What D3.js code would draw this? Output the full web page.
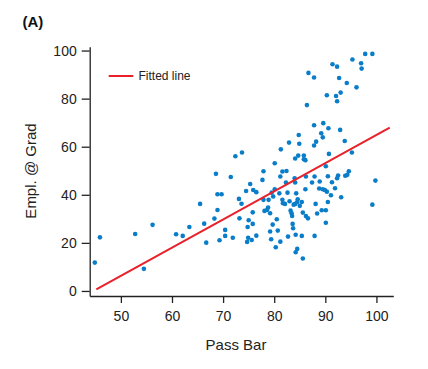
<!DOCTYPE html>
<html>
<head>
<meta charset="utf-8">
<script src="https://cdn.jsdelivr.net/npm/d3@7"></script>
<style>
  html, body { margin: 0; padding: 0; background: #fff; }
  svg { display: block; font-family: "Liberation Sans", Arial, sans-serif; }
</style>
</head>
<body>
<svg id="chart" width="428" height="369"></svg>
<script>
const WIDTH = 428;
const HEIGHT = 369;

// scatter values
const passBar = [
  44.9, 45.9, 52.8, 54.5, 56.2, 60.8, 62.1, 63.4, 65.5, 66.3, 66.7, 68.3, 68.6, 68.9, 68.9, 69.7,
  69.3, 70.4, 70.4, 71.5, 71.9, 72.4, 73.1, 73.2, 73.6, 73.7, 74.5, 74.7, 74.9, 74.8, 75.0, 75.3,
  75.6, 75.8, 75.8, 75.9, 76.5, 76.5, 77.7, 77.9, 77.9, 78.1, 78.6, 78.8, 78.9, 79.2, 79.2, 79.4,
  79.5, 79.7, 79.8, 80.1, 80.1, 80.3, 80.5, 80.7, 81.0, 81.2, 81.3, 81.2, 81.6, 81.6, 81.7, 82.1,
  82.3, 82.4, 82.6, 82.7, 82.9, 83.0, 83.2, 83.4, 83.5, 83.6, 83.7, 83.8, 84.0, 84.1, 84.1, 84.1,
  84.3, 84.2, 84.2, 84.5, 84.5, 84.6, 84.7, 84.8, 84.9, 85.0, 85.4, 85.4, 85.6, 85.6, 85.8, 85.8,
  86.1, 86.1, 86.2, 86.2, 86.4, 86.6, 86.7, 87.4, 87.8, 87.8, 87.8, 87.9, 87.9, 88.1, 88.2, 88.4,
  88.9, 88.8, 89.2, 89.3, 89.5, 89.5, 89.6, 89.9, 90.1, 90.1, 90.1, 90.3, 90.3, 90.5, 90.5, 90.6,
  90.7, 91.1, 91.3, 91.4, 91.9, 92.1, 92.3, 92.3, 92.3, 92.5, 92.7, 92.9, 93.0, 93.1, 93.8, 93.9,
  94.2, 94.3, 94.6, 95.2, 95.3, 96.1, 97.0, 97.1, 97.8, 99.2, 99.2, 99.8
];
const emplGrad = [
  11.8, 22.3, 23.7, 9.2, 27.5, 23.6, 22.9, 26.6, 36.2, 28.0, 20.1, 30.1, 48.7, 33.7, 40.2, 40.2,
  21.1, 25.4, 22.9, 47.4, 22.1, 56.0, 38.3, 30.2, 36.3, 57.6, 41.6, 20.4, 22.1, 26.6, 29.4, 44.5,
  21.2, 32.7, 27.9, 42.0, 41.1, 23.0, 46.2, 49.8, 37.9, 33.3, 33.7, 34.7, 37.9, 32.3, 24.7, 21.5,
  40.9, 27.6, 39.3, 53.1, 42.3, 18.2, 29.8, 25.1, 40.6, 20.5, 58.9, 47.6, 49.7, 37.9, 36.5, 36.2,
  45.1, 49.9, 40.9, 22.6, 61.7, 37.3, 33.4, 32.3, 31.2, 27.9, 26.1, 35.9, 46.9, 55.1, 45.1, 36.2,
  40.6, 23.4, 16.1, 17.5, 37.0, 38.1, 56.3, 64.9, 61.2, 35.4, 37.0, 22.9, 13.5, 32.6, 56.3, 54.8,
  54.4, 42.3, 47.6, 31.2, 77.3, 30.2, 90.7, 45.1, 88.8, 68.9, 60.5, 47.6, 22.9, 36.2, 62.1, 32.2,
  45.5, 42.6, 65.6, 33.6, 42.3, 63.9, 69.8, 42.0, 51.9, 33.6, 28.4, 41.3, 81.4, 47.7, 37.0, 67.7,
  57.0, 39.8, 45.2, 94.3, 42.7, 81.1, 93.3, 78.9, 46.9, 48.0, 88.6, 67.0, 82.5, 39.0, 62.4, 47.9,
  86.5, 48.3, 49.8, 57.6, 96.3, 84.7, 94.7, 92.5, 98.6, 98.6, 35.9, 45.9
];

// fitted line end points
const fitX = [45.2, 102.6];
const fitY = [0.7, 67.9];

const xTicks = [50, 60, 70, 80, 90, 100];
const yTicks = [0, 20, 40, 60, 80, 100];

const points = passBar.map((x, i) => ({ x: x, y: emplGrad[i] }));
const fitLine = fitX.map((x, i) => ({ x: x, y: fitY[i] }));

const svg = d3.select("#chart");

const xScale = d3.scaleLinear().domain([43.9, 103.3]).range([89.7, 393.3]);
const yScale = d3.scaleLinear().domain([-2.1, 101.6]).range([296, 46.7]);

// axes
const xAxis = d3.axisBottom(xScale)
  .tickValues(xTicks)
  .tickSize(7)
  .tickSizeOuter(0)
  .tickPadding(8);

const yAxis = d3.axisLeft(yScale)
  .tickValues(yTicks)
  .tickSize(8)
  .tickSizeOuter(0)
  .tickPadding(5);

const gx = svg.append("g")
  .attr("transform", "translate(0, 296)")
  .call(xAxis);

const gy = svg.append("g")
  .attr("transform", "translate(89.7, 0)")
  .call(yAxis);

[gx, gy].forEach((g) => {
  g.select(".domain").attr("stroke", "#222").attr("stroke-width", 1.3);
  g.selectAll(".tick line").attr("stroke", "#222").attr("stroke-width", 1.3);
  g.selectAll(".tick text")
    .attr("fill", "#222")
    .style("font-size", "14px")
    .style("font-family", "'Liberation Sans', Arial, sans-serif");
});

// scatter points
svg.append("g")
  .selectAll("circle")
  .data(points)
  .enter()
  .append("circle")
  .attr("cx", (d) => xScale(d.x))
  .attr("cy", (d) => yScale(d.y))
  .attr("r", 2.3)
  .attr("fill", "#0a7dc9");

// fitted line
const line = d3.line()
  .x((d) => xScale(d.x))
  .y((d) => yScale(d.y));

svg.append("path")
  .datum(fitLine)
  .attr("d", line)
  .attr("fill", "none")
  .attr("stroke", "#e8212b")
  .attr("stroke-width", 2);

// legend
svg.append("line")
  .attr("x1", 108.7)
  .attr("x2", 133.3)
  .attr("y1", 76)
  .attr("y2", 76)
  .attr("stroke", "#e8212b")
  .attr("stroke-width", 2);

svg.append("text")
  .text("Fitted line")
  .attr("x", 138.5)
  .attr("y", 80.3)
  .attr("fill", "#222")
  .style("font-size", "12px");

// axis titles
svg.append("text")
  .text("Pass Bar")
  .attr("x", 236)
  .attr("y", 350)
  .attr("text-anchor", "middle")
  .attr("fill", "#222")
  .style("font-size", "15px");

svg.append("text")
  .text("Empl. @ Grad")
  .attr("transform", "translate(36, 171) rotate(-90)")
  .attr("text-anchor", "middle")
  .attr("fill", "#222")
  .style("font-size", "15px");

// panel label
svg.append("text")
  .text("(A)")
  .attr("x", 22.5)
  .attr("y", 27)
  .attr("fill", "#111")
  .style("font-size", "15px")
  .style("font-weight", "bold");
</script>
</body>
</html>
